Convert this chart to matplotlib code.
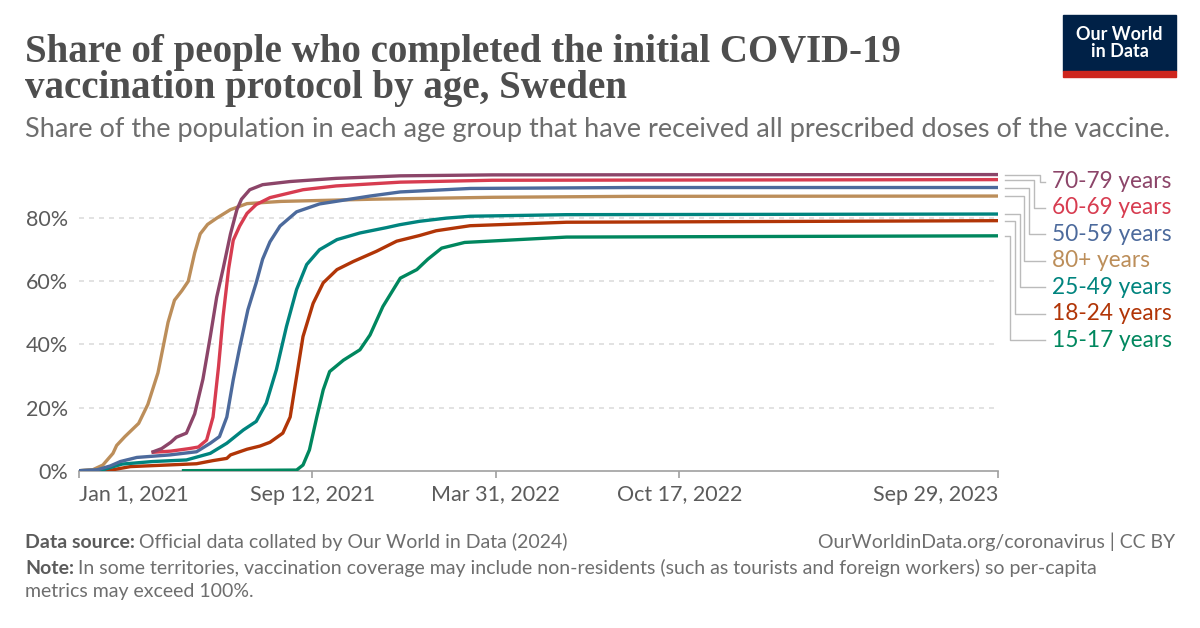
import pandas as pd
import matplotlib.pyplot as plt
from matplotlib.patches import Rectangle
from matplotlib.transforms import blended_transform_factory

# days counted from Jan 1, 2021, values in percent
start = pd.Timestamp("2021-01-01")

days_80 = [0, 15, 26, 37, 41, 50, 65, 75, 86, 97, 104, 112, 119, 126, 132, 140, 150, 165, 183, 220, 320, 450, 600, 1001]
pct_80 = [0, 0.3, 1.8, 5.5, 8.0, 10.8, 15, 21, 31, 47, 54, 57, 60, 69, 75, 78, 80, 82.7, 84.6, 85.3, 86.0, 86.6, 86.9, 87.0]

days_70 = [79, 90, 100, 106, 117, 126, 135, 143, 150, 157, 165, 172, 177, 186, 200, 230, 280, 350, 450, 1001]
pct_70 = [5.8, 7, 9, 10.6, 11.9, 18, 29, 42.5, 55, 64, 75, 82.7, 86, 89, 90.6, 91.6, 92.6, 93.4, 93.7, 93.8]

days_60 = [79, 100, 120, 130, 139, 146, 152, 157, 163, 168, 175, 183, 193, 208, 244, 280, 350, 450, 1001]
pct_60 = [5.8, 6.2, 7.0, 7.5, 9.7, 17, 33, 49, 64, 73, 77.5, 81.5, 84.3, 86.5, 89, 90.2, 91.4, 92.0, 92.2]

days_50 = [0, 20, 34, 45, 63, 99, 128, 143, 153, 161, 168, 175, 184, 193, 200, 208, 219, 237, 262, 317, 350, 426, 600, 1001]
pct_50 = [0, 0.3, 1.5, 2.9, 4.2, 5.0, 6.0, 8.7, 10.8, 17, 28.8, 39, 51, 59.5, 67, 72.5, 77.5, 82, 84.5, 87, 88.3, 89.4, 89.7, 89.7]

days_25 = [0, 25, 34, 47, 80, 117, 143, 161, 179, 193, 204, 215, 226, 237, 248, 262, 281, 306, 335, 349, 371, 400, 426, 531, 1001]
pct_25 = [0, 0.2, 1.0, 2.1, 2.9, 3.4, 5.5, 8.7, 12.9, 15.6, 21.4, 32, 45.7, 57.4, 65.3, 70, 73.2, 75.3, 77, 77.9, 79, 80, 80.6, 81.1, 81.3]

days_18 = [0, 35, 56, 80, 128, 146, 161, 165, 183, 197, 208, 222, 230, 237, 244, 255, 266, 281, 299, 324, 346, 371, 389, 426, 531, 1001]
pct_18 = [0, 0.2, 1.3, 1.6, 2.2, 3.2, 3.9, 5.0, 6.8, 7.8, 9.0, 11.9, 17, 29.8, 42.5, 53, 59.5, 63.7, 66.3, 69.5, 72.7, 74.5, 76.0, 77.6, 78.7, 79.2]

days_15 = [112, 237, 244, 251, 259, 266, 273, 288, 306, 317, 331, 350, 368, 380, 395, 420, 531, 1001]
pct_15 = [0, 0.2, 1.8, 6.6, 17, 25.6, 31.4, 35, 38.3, 43, 52, 61, 63.7, 67, 70.5, 72.3, 74.0, 74.4]

labels = ["70-79 years", "60-69 years", "50-59 years", "80+ years", "25-49 years", "18-24 years", "15-17 years"]
colors = ["#8C4569", "#D73C50", "#4C6A9C", "#BC8E5A", "#00847E", "#B13507", "#00875E"]
series = [(days_70, pct_70), (days_60, pct_60), (days_50, pct_50), (days_80, pct_80),
          (days_25, pct_25), (days_18, pct_18), (days_15, pct_15)]

tick_dates = ["2021-01-01", "2021-09-12", "2022-03-31", "2022-10-17", "2023-09-29"]
tick_labels = ["Jan 1, 2021", "Sep 12, 2021", "Mar 31, 2022", "Oct 17, 2022", "Sep 29, 2023"]

plt.rcParams['font.family'] = ['Lato', 'DejaVu Sans']

W, H = 1200, 628
fig = plt.figure(figsize=(12, 6.28), dpi=100)
ax = fig.add_axes([79 / W, 1 - 470.7 / H, 919 / W, (470.7 - 155) / H])

# draw in reverse so top groups sit on top
for (d, p), c in list(zip(series, colors))[::-1]:
    x = start + pd.to_timedelta(d, unit="D")
    ax.plot(x, p, color=c, lw=2.4, solid_capstyle="butt", zorder=3)

ax.set_ylim(0, 100)
ax.set_xlim(start, pd.Timestamp("2023-09-29"))
ax.set_yticks([0, 20, 40, 60, 80])
ax.set_yticklabels(["0%", "20%", "40%", "60%", "80%"])
for v in [20, 40, 60, 80]:
    ax.axhline(v, color="#DDDDDD", lw=1.2, ls=(0, (3, 3)), zorder=1)

ax.set_xticks(pd.to_datetime(tick_dates))
ax.set_xticklabels(tick_labels)
xl = ax.get_xticklabels()
xl[0].set_ha("left")
xl[-1].set_ha("right")

for s in ["top", "right", "left"]:
    ax.spines[s].set_visible(False)
ax.spines["bottom"].set_color("#A0A0A0")
ax.spines["bottom"].set_linewidth(1.2)
ax.tick_params(axis="x", colors="#A0A0A0", labelcolor="#5B5B5B", labelsize=15.5, length=5, width=1.2, pad=5)
ax.tick_params(axis="y", length=0, labelcolor="#5B5B5B", labelsize=15.5, pad=8)

# end labels with connector lines
tr = blended_transform_factory(ax.transAxes, ax.transData)
bend_x = [1040, 1034, 1029, 1024, 1020, 1015, 1010]
for i, ((d, p), c, lab) in enumerate(zip(series, colors, labels)):
    ly = 91.6 - i * 8.37
    bx = (bend_x[i] - 79) / 919
    ax.plot([1.0076, bx, bx, (1045 - 79) / 919], [p[-1], p[-1], ly, ly], color="#BBBBBB",
            lw=1, transform=tr, clip_on=False)
    ax.text((1052 - 79) / 919, ly, lab, color=c, fontsize=16.3, va="center", ha="left", transform=tr)

# title and subtitle
title_font = ["Liberation Serif", "DejaVu Serif"]
fig.text(25 / W, 1 - 62 / H, "Share of people who completed the initial COVID-19",
         fontsize=28, fontweight="bold", family=title_font, color="#4E4E4E", va="baseline", ha="left")
fig.text(25 / W, 1 - 98 / H, "vaccination protocol by age, Sweden",
         fontsize=28, fontweight="bold", family=title_font, color="#4E4E4E", va="baseline", ha="left")
fig.text(25 / W, 1 - 137 / H, "Share of the population in each age group that have received all prescribed doses of the vaccine.",
         fontsize=19.5, color="#6E6E6E", va="baseline", ha="left")

# logo
fig.patches.append(Rectangle((1063 / W, 1 - 71 / H), 113 / W, 56 / H, transform=fig.transFigure,
                             color="#002147", zorder=1))
fig.patches.append(Rectangle((1063 / W, 1 - 77 / H), 113 / W, 6 / H, transform=fig.transFigure,
                             color="#CE261E", zorder=1))
fig.text(1119.5 / W, 1 - 43 / H, "Our World\nin Data", color="white", fontsize=13, fontweight="bold",
         ha="center", va="center", linespacing=1.05)

# footer
renderer = fig.canvas.get_renderer()
foot = 14


def two_part(y, bold, rest):
    t = fig.text(25 / W, 1 - y / H, bold, fontsize=foot, fontweight="bold", color="#5B5B5B",
                 va="baseline", ha="left")
    w = t.get_window_extent(renderer).width
    fig.text((25 + w + 4) / W, 1 - y / H, rest, fontsize=foot, color="#6E6E6E", va="baseline", ha="left")


two_part(548, "Data source:", "Official data collated by Our World in Data (2024)")
two_part(574, "Note:", "In some territories, vaccination coverage may include non-residents (such as tourists and foreign workers) so per-capita")
fig.text(25 / W, 1 - 597 / H, "metrics may exceed 100%.", fontsize=foot, color="#6E6E6E", va="baseline", ha="left")
fig.text(1175 / W, 1 - 548 / H, "OurWorldinData.org/coronavirus | CC BY", fontsize=foot,
         color="#6E6E6E", va="baseline", ha="right")

fig.savefig("out.png", dpi=100)
